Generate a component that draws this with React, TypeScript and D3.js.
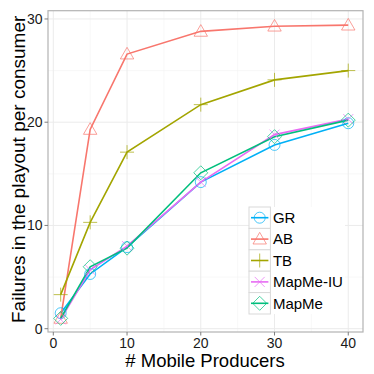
import { useMemo } from "react";
import { scaleLinear, line, symbol, symbolTriangle } from "d3";

const producers = [1, 5, 10, 20, 30, 40];
const seriesNames = ["GR", "AB", "TB", "MapMe-IU", "MapMe"];
const grValues = [1.5, 5.3, 7.9, 14.2, 17.8, 19.9];
const abValues = [1.0, 19.3, 26.6, 28.8, 29.3, 29.4];
const tbValues = [3.3, 10.3, 17.1, 21.7, 24.1, 25.0];
const mapmeIuValues = [0.9, 5.7, 8.0, 14.2, 18.8, 20.3];
const mapmeValues = [1.0, 6.0, 7.8, 15.1, 18.6, 20.2];
const seriesColors = ["#00B0F6", "#F8766D", "#A3A500", "#E76BF3", "#00BF7D"];
const xTicks = [0, 10, 20, 30, 40];
const yTicks = [0, 10, 20, 30];

const W = 374;
const H = 374;
const panel = { left: 48, right: 363, top: 10.7, bottom: 332 };
const font = "'Liberation Sans', Arial, Helvetica, sans-serif";

// one marker per series, like ggplot shapes 1..5
const Marker = ({ idx, x, y, color }) => {
  const common = { fill: "none", stroke: color, strokeWidth: 1, opacity: 0.7 };
  if (idx === 0) return <circle cx={x} cy={y} r={5.5} {...common} />;
  if (idx === 1)
    return (
      <path
        transform={`translate(${x},${y + 1})`}
        d={symbol(symbolTriangle, 78)()}
        {...common}
      />
    );
  if (idx === 2)
    return (
      <path d={`M${x - 7},${y}H${x + 7}M${x},${y - 7}V${y + 7}`} {...common} />
    );
  if (idx === 3)
    return (
      <path
        d={`M${x - 5},${y - 5}L${x + 5},${y + 5}M${x - 5},${y + 5}L${x + 5},${y - 5}`}
        {...common}
      />
    );
  return (
    <path
      d={`M${x},${y - 7}L${x + 7},${y}L${x},${y + 7}L${x - 7},${y}Z`}
      {...common}
    />
  );
};

const App = () => {
  const values = [grValues, abValues, tbValues, mapmeIuValues, mapmeValues];

  const xScale = useMemo(
    () => scaleLinear().domain([-0.72, 42]).range([panel.left, panel.right]),
    []
  );
  const yScale = useMemo(
    () => scaleLinear().domain([-0.32, 30.8]).range([panel.bottom, panel.top]),
    []
  );

  const lineGen = line<number>()
    .x((_, i) => xScale(producers[i]))
    .y((d) => yScale(d));

  const xMinor = [5, 15, 25, 35];
  const yMinor = [5, 15, 25];

  // legend box
  const legX = 249;
  const legY = 207;
  const keySize = 21.4;

  return (
    <svg
      width={W}
      height={H}
      style={{ position: "absolute", left: 0, top: 0, background: "#fff" }}
      fontFamily={font}
    >
      {/* grid */}
      {xMinor.map((t) => (
        <line key={"xm" + t} x1={xScale(t)} x2={xScale(t)} y1={panel.top} y2={panel.bottom} stroke="#f4f4f4" strokeWidth={0.6} />
      ))}
      {yMinor.map((t) => (
        <line key={"ym" + t} x1={panel.left} x2={panel.right} y1={yScale(t)} y2={yScale(t)} stroke="#f4f4f4" strokeWidth={0.6} />
      ))}
      {xTicks.map((t) => (
        <line key={"xg" + t} x1={xScale(t)} x2={xScale(t)} y1={panel.top} y2={panel.bottom} stroke="#ebebeb" strokeWidth={1} />
      ))}
      {yTicks.map((t) => (
        <line key={"yg" + t} x1={panel.left} x2={panel.right} y1={yScale(t)} y2={yScale(t)} stroke="#ebebeb" strokeWidth={1} />
      ))}

      {/* lines */}
      {values.map((v, si) => (
        <path key={"l" + si} d={lineGen(v)} fill="none" stroke={seriesColors[si]} strokeWidth={1.6} />
      ))}
      {/* points */}
      {values.map((v, si) =>
        v.map((d, i) => (
          <Marker key={"p" + si + "-" + i} idx={si} x={xScale(producers[i])} y={yScale(d)} color={seriesColors[si]} />
        ))
      )}

      {/* panel border */}
      <rect
        x={panel.left}
        y={panel.top}
        width={panel.right - panel.left}
        height={panel.bottom - panel.top}
        fill="none"
        stroke="#b3b3b3"
        strokeWidth={1.2}
      />

      {/* axes ticks + labels */}
      {xTicks.map((t) => (
        <g key={"xt" + t}>
          <line x1={xScale(t)} x2={xScale(t)} y1={panel.bottom} y2={panel.bottom + 3.5} stroke="#7f7f7f" />
          <text x={xScale(t)} y={348} textAnchor="middle" fontSize={14} fill="#1a1a1a">
            {t}
          </text>
        </g>
      ))}
      {yTicks.map((t) => (
        <g key={"yt" + t}>
          <line x1={panel.left - 3.5} x2={panel.left} y1={yScale(t)} y2={yScale(t)} stroke="#7f7f7f" />
          <text x={42.5} y={yScale(t) + 5} textAnchor="end" fontSize={14} fill="#1a1a1a">
            {t}
          </text>
        </g>
      ))}

      <text x={205} y={367} textAnchor="middle" fontSize={18.5} fill="#000">
        # Mobile Producers
      </text>
      <text
        transform={`translate(25,${(panel.top + panel.bottom) / 2 - 2}) rotate(-90)`}
        textAnchor="middle"
        fontSize={19}
        fill="#000"
      >
        Failures in the playout per consumer
      </text>

      {/* legend */}
      <rect x={legX} y={legY} width={96} height={keySize * 5} fill="#fff" />
      {seriesNames.map((name, i) => {
        const ky = legY + i * keySize;
        const cy = ky + keySize / 2;
        return (
          <g key={"lg" + name}>
            <rect x={legX} y={ky} width={keySize} height={keySize} fill="#fff" stroke="#d9d9d9" strokeWidth={1} />
            <line x1={legX + 2} x2={legX + keySize - 2} y1={cy} y2={cy} stroke={seriesColors[i]} strokeWidth={1.6} />
            <Marker idx={i} x={legX + keySize / 2} y={cy} color={seriesColors[i]} />
            <text x={legX + keySize + 2.5} y={cy + 5.3} fontSize={15} fill="#000">
              {name}
            </text>
          </g>
        );
      })}
    </svg>
  );
};

export default App;
